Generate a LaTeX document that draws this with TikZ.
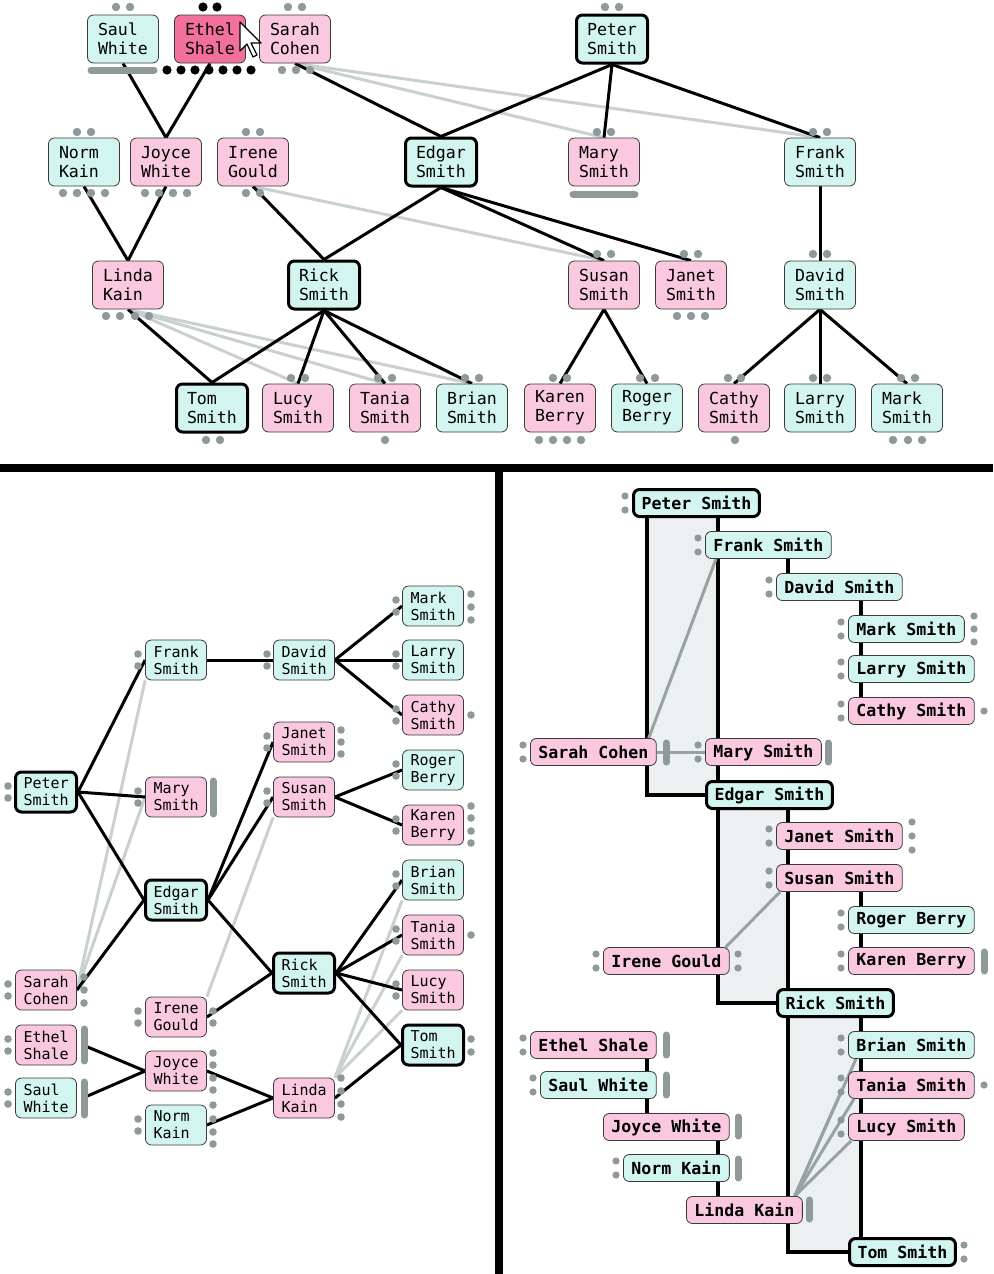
\documentclass[tikz,border=0pt]{standalone}
\usepackage{fontspec}
\newfontfamily\namefont{DejaVu Sans Mono}
\usepackage{tikz}
\usetikzlibrary{backgrounds}
\definecolor{cyanfill}{HTML}{D3F5EF}
\definecolor{pinkfill}{HTML}{FBC9DF}
\definecolor{picked}{HTML}{F2709C}
\definecolor{rim}{HTML}{3A3A3A}
\definecolor{pipgray}{HTML}{8E9999}
\definecolor{faint}{HTML}{C9D1D0}
\definecolor{faintdark}{HTML}{97A3A2}
\definecolor{band}{HTML}{EDF0F0}

\begin{document}
\begin{tikzpicture}[x=1pt,y=-1pt,
 box/.style={draw=rim,rounded corners=6pt,line width=0.8pt,font=\namefont\fontsize{16.6}{19}\selectfont},
 tbox/.style={box,text width=50pt,align=left,inner xsep=10.5pt,minimum height=48pt},
 lbox/.style={box,font=\namefont\fontsize{15}{17}\selectfont,text width=45pt,align=left,inner xsep=8pt,minimum height=40pt},
 rbox/.style={box,font=\namefont\bfseries\fontsize{16.6}{19}\selectfont,anchor=west,inner xsep=8pt,minimum height=27pt},
 he/.style={fill=cyanfill}, she/.style={fill=pinkfill},
 heavy/.style={draw=black,line width=3pt},
 tie/.style={line width=3pt,black},
 dim/.style={line width=3pt,faint},
 dimdark/.style={line width=3pt,faintdark},
 spine/.style={line width=4pt,black},
 pip/.style={fill=pipgray},
 bar/.style={line width=7pt,pipgray,line cap=round}]
 \useasboundingbox (0,0) rectangle (993,1274);

 % top: generations as rows
 \node[tbox,he] (t-saul) at (123,39) {Saul\\White};
 \node[tbox,fill=picked] (t-ethel) at (210,39) {Ethel\\Shale};
 \node[tbox,she] (t-sarah) at (295,39) {Sarah\\Cohen};
 \node[tbox,he,heavy] (t-peter) at (612,39) {Peter\\Smith};
 \node[tbox,he] (t-norm) at (84,162) {Norm\\Kain};
 \node[tbox,she] (t-joyce) at (166,162) {Joyce\\White};
 \node[tbox,she] (t-irene) at (253,162) {Irene\\Gould};
 \node[tbox,he,heavy] (t-edgar) at (441,162) {Edgar\\Smith};
 \node[tbox,she] (t-mary) at (604,162) {Mary\\Smith};
 \node[tbox,he] (t-frank) at (820,162) {Frank\\Smith};
 \node[tbox,she] (t-linda) at (128,285) {Linda\\Kain};
 \node[tbox,he,heavy] (t-rick) at (324,285) {Rick\\Smith};
 \node[tbox,she] (t-susan) at (604,285) {Susan\\Smith};
 \node[tbox,she] (t-janet) at (691,285) {Janet\\Smith};
 \node[tbox,he] (t-david) at (820,285) {David\\Smith};
 \node[tbox,he,heavy] (t-tom) at (212,408) {Tom\\Smith};
 \node[tbox,she] (t-lucy) at (298,408) {Lucy\\Smith};
 \node[tbox,she] (t-tania) at (385,408) {Tania\\Smith};
 \node[tbox,he] (t-brian) at (472,408) {Brian\\Smith};
 \node[tbox,she] (t-karen) at (560,408) {Karen\\Berry};
 \node[tbox,he] (t-roger) at (647,408) {Roger\\Berry};
 \node[tbox,she] (t-cathy) at (734,408) {Cathy\\Smith};
 \node[tbox,he] (t-larry) at (820,408) {Larry\\Smith};
 \node[tbox,he] (t-mark) at (907,408) {Mark\\Smith};

 % bottom left: generations as columns
 \node[lbox,he,heavy] (l-peter) at (46,792) {Peter\\Smith};
 \node[lbox,she] (l-sarah) at (46,990) {Sarah\\Cohen};
 \node[lbox,she] (l-ethel) at (46,1045) {Ethel\\Shale};
 \node[lbox,he] (l-saul) at (46,1098) {Saul\\White};
 \node[lbox,he] (l-frank) at (176,660) {Frank\\Smith};
 \node[lbox,she] (l-mary) at (176,797) {Mary\\Smith};
 \node[lbox,he,heavy] (l-edgar) at (176,900) {Edgar\\Smith};
 \node[lbox,she] (l-irene) at (176,1017) {Irene\\Gould};
 \node[lbox,she] (l-joyce) at (176,1071) {Joyce\\White};
 \node[lbox,he] (l-norm) at (176,1125) {Norm\\Kain};
 \node[lbox,he] (l-david) at (304,660) {David\\Smith};
 \node[lbox,she] (l-janet) at (304,742) {Janet\\Smith};
 \node[lbox,she] (l-susan) at (304,797) {Susan\\Smith};
 \node[lbox,he,heavy] (l-rick) at (304,973) {Rick\\Smith};
 \node[lbox,she] (l-linda) at (304,1098) {Linda\\Kain};
 \node[lbox,he] (l-mark) at (433,606) {Mark\\Smith};
 \node[lbox,he] (l-larry) at (433,660) {Larry\\Smith};
 \node[lbox,she] (l-cathy) at (433,715) {Cathy\\Smith};
 \node[lbox,he] (l-roger) at (433,770) {Roger\\Berry};
 \node[lbox,she] (l-karen) at (433,825) {Karen\\Berry};
 \node[lbox,he] (l-brian) at (433,880) {Brian\\Smith};
 \node[lbox,she] (l-tania) at (433,935) {Tania\\Smith};
 \node[lbox,she] (l-lucy) at (433,990) {Lucy\\Smith};
 \node[lbox,he,heavy] (l-tom) at (433,1045) {Tom\\Smith};

 % bottom right: indented outline
 \node[rbox,he,heavy] (r-peter) at (632,503) {Peter Smith};
 \node[rbox,he] (r-frank) at (705,545) {Frank Smith};
 \node[rbox,he] (r-david) at (776,587) {David Smith};
 \node[rbox,he] (r-mark) at (848,629) {Mark Smith};
 \node[rbox,he] (r-larry) at (848,669) {Larry Smith};
 \node[rbox,she] (r-cathy) at (848,711) {Cathy Smith};
 \node[rbox,she] (r-sarah) at (530,752) {Sarah Cohen};
 \node[rbox,she] (r-mary) at (705,752) {Mary Smith};
 \node[rbox,he,heavy] (r-edgar) at (705,795) {Edgar Smith};
 \node[rbox,she] (r-janet) at (776,836) {Janet Smith};
 \node[rbox,she] (r-susan) at (776,878) {Susan Smith};
 \node[rbox,he] (r-roger) at (848,920) {Roger Berry};
 \node[rbox,she] (r-irene) at (603,961) {Irene Gould};
 \node[rbox,she] (r-karen) at (848,961) {Karen Berry};
 \node[rbox,he,heavy] (r-rick) at (776,1003) {Rick Smith};
 \node[rbox,she] (r-ethel) at (530,1045) {Ethel Shale};
 \node[rbox,he] (r-brian) at (848,1045) {Brian Smith};
 \node[rbox,he] (r-saul) at (540,1085) {Saul White};
 \node[rbox,she] (r-tania) at (848,1085) {Tania Smith};
 \node[rbox,she] (r-joyce) at (603,1127) {Joyce White};
 \node[rbox,she] (r-lucy) at (848,1127) {Lucy Smith};
 \node[rbox,he] (r-norm) at (623,1168) {Norm Kain};
 \node[rbox,she] (r-linda) at (686,1210) {Linda Kain};
 \node[rbox,he,heavy] (r-tom) at (848,1252) {Tom Smith};

 \coordinate (s1) at ([xshift=15pt]r-peter.south west);
 \coordinate (s2) at ([xshift=13pt]r-edgar.north west);
 \coordinate (s3) at ([xshift=12pt]r-david.north west);
 \coordinate (s4) at ([xshift=13pt]r-cathy.north west);
 \coordinate (s5) at ([xshift=13pt]r-edgar.south west);
 \coordinate (s6) at ([xshift=12pt]r-rick.north west);
 \coordinate (s7) at ([xshift=13pt]r-karen.north west);
 \coordinate (s8) at ([xshift=12pt]r-rick.south west);
 \coordinate (s9) at ([xshift=13pt]r-tom.north west);
 \coordinate (s10) at ([xshift=117pt]r-ethel.south west);
 \coordinate (s11) at ([xshift=115pt]r-joyce.south west);

 \begin{pgfonlayer}{background}
  \fill[white] (0,0) rectangle (993,1274);
  % top links
  \draw[dim] (t-sarah.south) -- (t-mary.north);
  \draw[dim] (t-sarah.south) -- (t-frank.north);
  \draw[dim] (t-irene.south) -- (t-susan.north);
  \foreach \k in {lucy,tania,brian} \draw[dim] (t-linda.south) -- (t-\k.north);
  \draw[tie] (t-saul.south) -- (t-joyce.north);
  \draw[tie] (t-ethel.south) -- (t-joyce.north);
  \draw[tie] (t-sarah.south) -- (t-edgar.north);
  \foreach \k in {edgar,mary,frank} \draw[tie] (t-peter.south) -- (t-\k.north);
  \draw[tie] (t-norm.south) -- (t-linda.north);
  \draw[tie] (t-joyce.south) -- (t-linda.north);
  \draw[tie] (t-irene.south) -- (t-rick.north);
  \foreach \k in {rick,susan,janet} \draw[tie] (t-edgar.south) -- (t-\k.north);
  \draw[tie] (t-frank.south) -- (t-david.north);
  \draw[tie] (t-linda.south) -- (t-tom.north);
  \foreach \k in {tom,lucy,tania,brian} \draw[tie] (t-rick.south) -- (t-\k.north);
  \foreach \k in {karen,roger} \draw[tie] (t-susan.south) -- (t-\k.north);
  \foreach \k in {cathy,larry,mark} \draw[tie] (t-david.south) -- (t-\k.north);
  % bottom left links
  \draw[dim] (l-sarah.east) -- (l-frank.south west);
  \draw[dim] (l-sarah.east) -- (l-mary.west);
  \draw[dim] (l-irene.north east) -- (l-susan.south west);
  \foreach \k in {brian,tania,lucy} \draw[dim] (l-linda.north east) -- (l-\k.south west);
  \foreach \k in {frank,mary,edgar} \draw[tie] (l-peter.east) -- (l-\k.west);
  \draw[tie] (l-sarah.east) -- (l-edgar.west);
  \draw[tie] (l-frank.east) -- (l-david.west);
  \foreach \k in {mark,larry,cathy} \draw[tie] (l-david.east) -- (l-\k.west);
  \foreach \k in {janet,susan,rick} \draw[tie] (l-edgar.east) -- (l-\k.west);
  \draw[tie] (l-irene.east) -- (l-rick.west);
  \foreach \k in {roger,karen} \draw[tie] (l-susan.east) -- (l-\k.west);
  \foreach \k in {brian,tania,lucy,tom} \draw[tie] (l-rick.east) -- (l-\k.west);
  \draw[tie] ([xshift=6pt]l-ethel.east) -- (l-joyce.west);
  \draw[tie] ([xshift=6pt]l-saul.east) -- (l-joyce.west);
  \draw[tie] (l-joyce.east) -- (l-linda.west);
  \draw[tie] (l-linda.west) -- (l-norm.east);
  \draw[tie] (l-linda.east) -- (l-tom.west);
  % bottom right bands and spines
  \fill[band] (s1) rectangle (s2 |- r-edgar.west);
  \fill[band] (s5) rectangle (s6 |- r-rick.west);
  \fill[band] (s8) rectangle (s9 |- r-tom.west);
  \draw[spine] (s1) |- (r-edgar.west);
  \draw[spine] (r-peter.south -| s2) -- (s2);
  \draw[spine] (r-frank.south -| s3) -- (s3);
  \draw[spine] (r-david.south -| s4) -- (s4);
  \draw[spine] (s5) |- (r-rick.west);
  \draw[spine] (r-edgar.south -| s6) -- (s6);
  \draw[spine] (r-susan.south -| s7) -- (s7);
  \draw[spine] (s8) |- (r-tom.west);
  \draw[spine] (r-rick.south -| s9) -- (s9);
  \draw[spine] (s10) -- (s10 |- r-saul.north);
  \draw[spine] (r-saul.south -| s10) -- (s10 |- r-joyce.north);
  \draw[spine] (s11) -- (s11 |- r-norm.north);
  \draw[spine] (r-norm.south -| s11) -- (s11 |- r-linda.north);
  \draw[dimdark] ([xshift=-8pt]r-sarah.north east) -- ([xshift=11pt]r-frank.south west);
  \draw[dimdark] (r-sarah.east) -- (r-mary.west);
  \draw[dimdark] ([xshift=-4pt]r-irene.north east) -- ([xshift=4pt]r-susan.south west);
  \draw[dimdark] ([xshift=-8pt]r-linda.north east) -- ([xshift=8pt]r-brian.south west);
  \draw[dimdark] ([xshift=-8pt]r-linda.north east) -- ([xshift=-7pt,yshift=-7pt]r-tania.west);
  \draw[dimdark] ([xshift=-8pt]r-linda.north east) -- ([xshift=6pt]r-tania.south west);
  \draw[dimdark] ([xshift=-8pt]r-linda.north east) -- ([xshift=3pt]r-lucy.south west);
 \end{pgfonlayer}

 % handles: dots and bars
 \foreach \x/\y in {116/7,130/7,288/7,302/7,605/7,619/7,282/70,296/70,310/70,
   77/132,91/132,246/132,260/132,597/132,611/132,813/132,827/132,
   63/193,77/193,91/193,105/193,145/193,159/193,173/193,187/193,246/193,260/193,
   597/254,611/254,684/254,698/254,813/254,827/254,
   106/316,120/316,135/316,149/316,677/316,691/316,705/316,
   291/378,305/378,378/378,392/378,465/378,479/378,553/378,567/378,640/378,655/378,
   728/378,741/378,813/378,827/378,901/378,915/378,
   206/440,220/440,385/440,539/440,553/440,567/440,581/440,735/440,893/440,908/440,922/440}
   \fill[pip] (\x,\y) circle[radius=4.2pt];
 \foreach \x in {167,181,...,251} \fill (\x,70) circle[radius=4.6pt];
 \fill (203,7) circle[radius=4.6pt] (217,7) circle[radius=4.6pt];
 \draw[bar] (91,70) -- (154,70);
 \draw[bar] (573,194) -- (635,194);
 \foreach \x/\y in {8/786,8/798,8/984,8/996,8/1039,8/1051,8/1092,8/1104,
   138/654,138/666,138/791,138/803,138/1011,138/1023,138/1119,138/1131,
   267/654,267/666,267/736,267/748,267/791,267/803,
   396/600,396/612,396/654,396/666,396/709,396/721,396/764,396/776,396/819,396/831,
   396/874,396/886,396/929,396/941,396/984,396/996,
   84/977,84/990,84/1003,213/1011,213/1023,213/1053,213/1065,213/1078,213/1090,
   213/1105,213/1119,213/1132,213/1144,341/730,341/742,341/754,
   341/1078,341/1091,341/1104,341/1117,471/594,471/607,471/620,471/715,
   471/806,471/818,471/831,471/843,471/935,471/1039,471/1052}
   \fill[pip] (\x,\y) circle[radius=3.8pt];
 \draw[bar] (213,781) -- (213,814);
 \draw[bar] (84,1029) -- (84,1061);
 \draw[bar] (84,1082) -- (84,1115);
 \foreach \x/\y in {625/496,625/510,698/538,698/552,769/580,769/594,841/622,841/636,
   841/662,841/676,841/704,841/718,523/745,523/759,698/745,698/759,769/829,769/843,
   769/871,769/885,841/913,841/927,596/954,596/968,841/954,841/968,523/1038,523/1052,
   841/1038,841/1052,533/1078,533/1092,841/1078,841/1092,841/1120,841/1134,616/1161,616/1175,
   974/616,974/629,974/642,984/711,912/822,912/836,912/850,738/954,738/968,984/1085,
   964/1245,964/1259}
   \fill[pip] (\x,\y) circle[radius=3.6pt];
 \foreach \x/\a/\b in {666/743/762,828/743/762,984/952/971,666/1035/1055,666/1075/1095,
   738/1117/1136,738/1159/1178,809/1200/1219}
   \draw[bar] (\x,\a) -- (\x,\b);

 % panel frames and pointer
 \draw[line width=8pt] (0,468) -- (993,468);
 \draw[line width=8pt] (499,468) -- (499,1274);
 \filldraw[fill=white,draw=black,line width=1.2pt,line join=round]
   (240,22) -- ++(0,29) -- ++(7,-7) -- ++(6,13) -- ++(4,-2) -- ++(-6,-12) -- ++(10,0) -- cycle;
\end{tikzpicture}
\end{document}
